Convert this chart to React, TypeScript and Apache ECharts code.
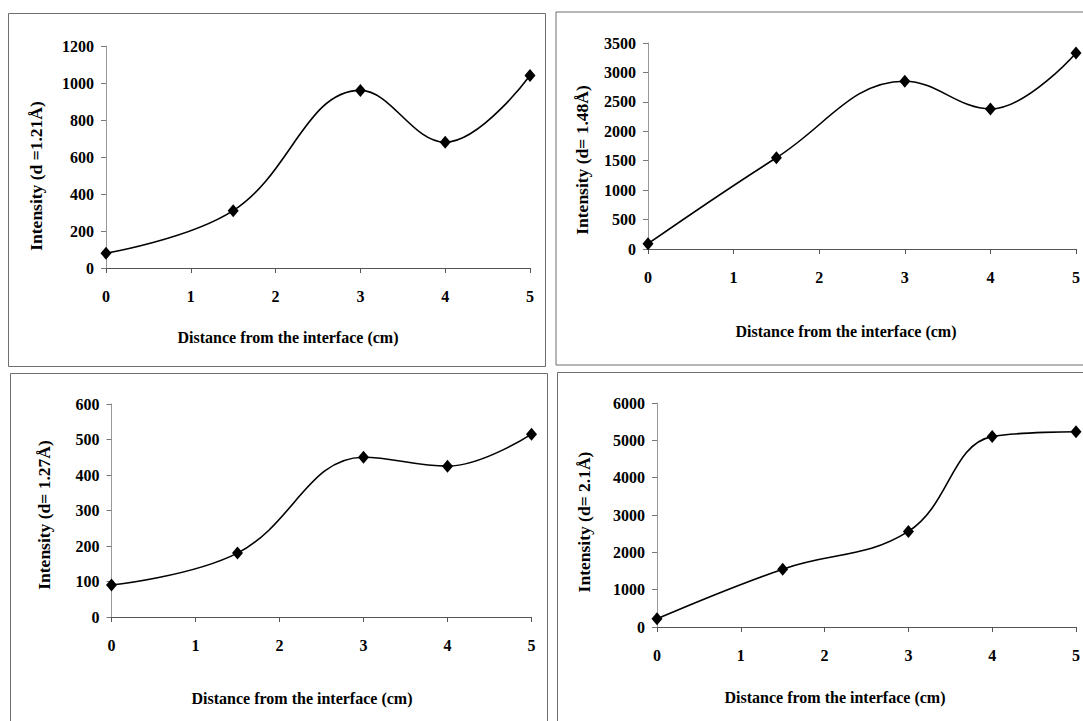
import React, { useEffect, useRef } from "react";
import * as echarts from "echarts";

const distance = [0, 1.5, 3, 4, 5];
const intensity121 = [80, 310, 960, 680, 1040];
const intensity148 = [90, 1550, 2850, 2380, 3330];
const intensity127 = [90, 180, 450, 425, 515];
const intensity21 = [220, 1550, 2560, 5100, 5230];

const xTitle = "Distance from the interface (cm)";
const yTitles = [
  "Intensity (d =1.21Å)",
  "Intensity (d= 1.48Å)",
  "Intensity (d= 1.27Å)",
  "Intensity (d= 2.1Å)",
];
const yMax = [1200, 3500, 600, 6000];
const yStep = [200, 500, 100, 1000];
const seriesList = [intensity121, intensity148, intensity127, intensity21];

const FONT = "'Liberation Serif', 'Times New Roman', serif";

export default function App() {
  const ref = useRef<HTMLDivElement>(null);
  useEffect(() => {
    if (!ref.current) return;
    const chart = echarts.init(ref.current, null, { renderer: "svg" });
    const grids = [
      { left: 106, top: 46, width: 424, height: 222 },
      { left: 648, top: 43, width: 429, height: 206 },
      { left: 111.5, top: 404, width: 420, height: 213 },
      { left: 657, top: 403, width: 421, height: 224 },
    ];
    const titlePos = [
      { xt: [288, 337], yt: [36, 176] },
      { xt: [846, 331], yt: [582, 160] },
      { xt: [302, 698], yt: [43.5, 515] },
      { xt: [835, 697], yt: [584, 522] },
    ];
    const boxes = [
      { x: 8.5, y: 13.5, width: 537, height: 353 },
      { x: 556, y: 12, width: 540, height: 353 },
      { x: 10.5, y: 373.5, width: 537, height: 360 },
      { x: 557.5, y: 372.5, width: 540, height: 360 },
    ];
    const graphic: any[] = [];
    boxes.forEach((b) => {
      graphic.push({
        type: "rect",
        shape: b,
        style: { fill: "none", stroke: "#6e6e6e", lineWidth: 1 },
        z: 0,
      });
    });
    titlePos.forEach((p, i) => {
      graphic.push({
        type: "text",
        x: p.xt[0],
        y: p.xt[1],
        style: {
          text: xTitle,
          font: `bold 16px ${FONT}`,
          fill: "#000",
          align: "center",
          verticalAlign: "middle",
        },
      });
      graphic.push({
        type: "text",
        x: p.yt[0],
        y: p.yt[1],
        rotation: Math.PI / 2,
        style: {
          text: yTitles[i],
          font: `bold 17.5px ${FONT}`,
          fill: "#000",
          align: "center",
          verticalAlign: "middle",
        },
      });
    });

    const option: any = {
      animation: false,
      backgroundColor: "#fff",
      grid: grids.map((g) => ({ ...g, containLabel: false })),
      xAxis: grids.map((_, i) => ({
        type: "value",
        gridIndex: i,
        min: 0,
        max: 5,
        interval: 1,
        axisLine: { show: true, lineStyle: { color: "#555", width: 1 } },
        axisTick: { show: true, inside: false, length: 5, lineStyle: { color: "#555" } },
        splitLine: { show: false },
        axisLabel: {
          margin: 20,
          color: "#000",
          fontFamily: FONT,
          fontWeight: "bold",
          fontSize: 16,
          formatter: (v: number) => String(v),
        },
      })),
      yAxis: grids.map((_, i) => ({
        type: "value",
        gridIndex: i,
        min: 0,
        max: yMax[i],
        interval: yStep[i],
        axisLine: { show: true, lineStyle: { color: "#999", width: 1 } },
        axisTick: { show: true, inside: false, length: 5, lineStyle: { color: "#777" } },
        splitLine: { show: false },
        axisLabel: {
          margin: 12,
          color: "#000",
          fontFamily: FONT,
          fontWeight: "bold",
          fontSize: 16,
          formatter: (v: number) => String(v),
        },
      })),
      series: seriesList.map((vals, i) => ({
        type: "line",
        xAxisIndex: i,
        yAxisIndex: i,
        data: distance.map((d, k) => [d, vals[k]]),
        smooth: 0.4,
        symbol: "diamond",
        symbolSize: [11, 13],
        lineStyle: { color: "#000", width: 1.6 },
        itemStyle: { color: "#000" },
        clip: false,
      })),
      graphic,
    };
    chart.setOption(option);
    return () => chart.dispose();
  }, []);
  return (
    <div
      ref={ref}
      style={{ position: "absolute", left: 0, top: 0, width: 1083, height: 721, background: "#fff" }}
    />
  );
}
